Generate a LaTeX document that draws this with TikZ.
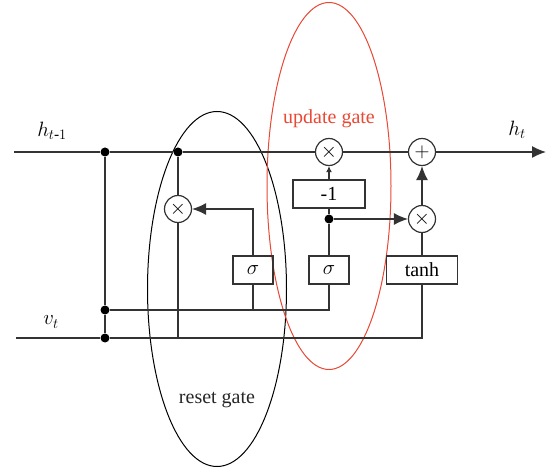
\documentclass[tikz,border=0pt]{standalone}
\usepackage{amsmath}
\usepackage{fontspec}
\setmainfont{Liberation Serif}
\usetikzlibrary{arrows.meta,shapes.geometric}
\definecolor{updred}{RGB}{232,72,52}

\begin{document}
\begin{tikzpicture}[x=1pt, y=-1pt,
  line/.style={black!80, line width=1.2pt},
  op/.style={circle, draw=black!80, line width=1.2pt, minimum size=27pt, inner sep=0pt, font=\fontsize{22}{24}\selectfont},
  gatebox/.style={draw=black!80, line width=1.2pt, inner sep=0pt, minimum height=28pt, font=\fontsize{20}{22}\selectfont},
  dot/.style={circle, fill=black, inner sep=0pt, minimum size=9pt},
  arrow/.style={line, -{Latex[length=14pt, width=12pt]}},
  smallarrow/.style={line, -{Latex[length=6pt, width=6pt]}},
  ring/.style={ellipse, draw, line width=1pt, inner sep=0pt},
  lab/.style={font=\fontsize{20}{22}\selectfont},
  mathlab/.style={font=\fontsize{22}{24}\selectfont}
]
\useasboundingbox (0,0) rectangle (547,468);

% Gate outlines
\node[ring, minimum width=139pt, minimum height=355pt] (resetring) at (217,289) {};
\node[ring, draw=updred, minimum width=124pt, minimum height=367pt] (updring) at (329,186) {};
\node[lab, text=black!85] (resetlab) at (217,400) {reset gate};
\node[lab, text=updred] (updlab) at (329,119) {update gate};

% Inputs and output
\coordinate (hin) at (14,152);
\coordinate (vin) at (16,338);
\coordinate (hout) at (546,152);
\node[mathlab] (hlab) at (52,131) {$h_{t\text{-}1}$};
\node[mathlab] (vlab) at (51,322) {$v_t$};
\node[mathlab] (houtlab) at (517,130) {$h_t$};

% Junctions
\node[dot] (dA) at (105,152) {};
\node[dot] (dB) at (178,152) {};
\node[dot] (dC) at (105,310) {};
\node[dot] (dD) at (105,338) {};
\node[dot] (dE) at (329,219) {};

% Operators and gates
\node[op] (rmul) at (178,209) {$\times$};
\node[op] (zmul) at (329,152) {$\times$};
\node[op] (hmul) at (422,219) {$\times$};
\node[op] (add) at (422,152) {$+$};
\node[gatebox, minimum width=40pt] (sigr) at (253,270) {$\sigma$};
\node[gatebox, minimum width=40pt] (sigz) at (329,270) {$\sigma$};
\node[gatebox, minimum width=72pt] (neg) at (329,194) {-1};
\node[gatebox, minimum width=71pt] (tanh) at (422,270) {tanh};

% Main state line
\draw[line] (hin) -- (dA) -- (dB) -- (zmul) -- (add);
\draw[arrow] (add) -- (hout);
\draw[line] (dA) -- (dC) -- (dD);
\draw[line] (vin) -- (dD) -| (tanh.south);
\draw[line] (dC) -| (sigz.south);
\draw[line] (sigr.south) -- (sigr.south |- dC);

% Reset path
\draw[line] (dB) -- (rmul);
\draw[line] (rmul) -- (rmul |- dD);
\draw[arrow] (sigr.north) |- (rmul.east);

% Update path
\draw[line] (sigz) -- (dE) -- (neg);
\draw[smallarrow] (neg) -- (zmul);
\draw[arrow] (dE) -- (hmul);
\draw[line] (tanh) -- (hmul);
\draw[arrow] (hmul) -- (add);
\end{tikzpicture}
\end{document}
